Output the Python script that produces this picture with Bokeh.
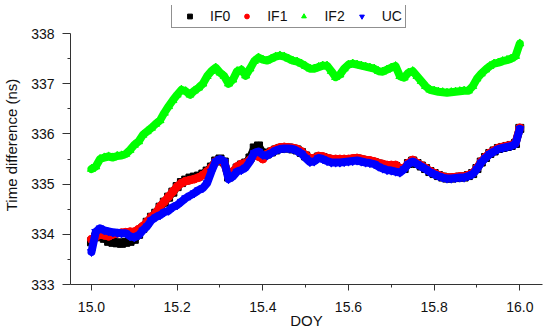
from bokeh.plotting import figure
from bokeh.models import Range1d, FixedTicker, PrintfTickFormatter, Legend, LegendItem, ColumnDataSource
from bokeh.embed import file_html
from bokeh.resources import INLINE

doy = [15.00, 15.01, 15.02, 15.03, 15.04, 15.05, 15.06, 15.07, 15.08, 15.09,
       15.10, 15.11, 15.12, 15.13, 15.14, 15.15, 15.16, 15.17, 15.18, 15.19,
       15.20, 15.21, 15.22, 15.23, 15.24, 15.25, 15.26, 15.27, 15.28, 15.29,
       15.30, 15.31, 15.32, 15.33, 15.34, 15.35, 15.36, 15.37, 15.38, 15.39,
       15.40, 15.41, 15.42, 15.43, 15.44, 15.45, 15.46, 15.47, 15.48, 15.49,
       15.50, 15.51, 15.52, 15.53, 15.54, 15.55, 15.56, 15.57, 15.58, 15.59,
       15.60, 15.61, 15.62, 15.63, 15.64, 15.65, 15.66, 15.67, 15.68, 15.69,
       15.70, 15.71, 15.72, 15.73, 15.74, 15.75, 15.76, 15.77, 15.78, 15.79,
       15.80, 15.81, 15.82, 15.83, 15.84, 15.85, 15.86, 15.87, 15.88, 15.89,
       15.90, 15.91, 15.92, 15.93, 15.94, 15.95, 15.96, 15.97, 15.98, 15.99,
       16.00]

if2 = [335.30, 335.35, 335.50, 335.53, 335.55, 335.53, 335.56, 335.57, 335.60, 335.68,
       335.78, 335.85, 335.98, 336.05, 336.12, 336.20, 336.27, 336.42, 336.55, 336.67,
       336.78, 336.88, 336.85, 336.78, 336.86, 336.92, 337.00, 337.15, 337.25, 337.32,
       337.22, 337.15, 337.00, 337.08, 337.25, 337.28, 337.16, 337.30, 337.45, 337.52,
       337.48, 337.46, 337.50, 337.54, 337.56, 337.54, 337.50, 337.46, 337.44, 337.40,
       337.35, 337.30, 337.30, 337.33, 337.36, 337.36, 337.25, 337.13, 337.18, 337.30,
       337.38, 337.40, 337.38, 337.36, 337.34, 337.32, 337.30, 337.25, 337.24, 337.28,
       337.32, 337.35, 337.15, 337.12, 337.22, 337.25, 337.15, 337.05, 336.95, 336.88,
       336.86, 336.84, 336.83, 336.82, 336.83, 336.84, 336.85, 336.86, 336.86, 336.95,
       337.10, 337.20, 337.28, 337.35, 337.40, 337.42, 337.45, 337.47, 337.50, 337.55,
       337.80]

uc = [333.65, 334.05, 334.12, 334.08, 334.06, 334.04, 334.03, 334.02, 334.02, 333.96,
      333.94, 333.98, 334.08, 334.16, 334.28, 334.34, 334.38, 334.44, 334.47, 334.54,
      334.58, 334.65, 334.72, 334.77, 334.82, 334.88, 334.92, 335.02, 335.25, 335.45,
      335.50, 335.45, 335.10, 335.15, 335.25, 335.28, 335.33, 335.45, 335.62, 335.65,
      335.58, 335.57, 335.62, 335.67, 335.70, 335.71, 335.71, 335.70, 335.66, 335.61,
      335.52, 335.44, 335.45, 335.52, 335.50, 335.46, 335.43, 335.43, 335.43, 335.44,
      335.45, 335.46, 335.47, 335.45, 335.43, 335.42, 335.40, 335.35, 335.31, 335.28,
      335.27, 335.25, 335.23, 335.30, 335.40, 335.45, 335.40, 335.35, 335.30, 335.24,
      335.20, 335.16, 335.13, 335.11, 335.11, 335.12, 335.13, 335.13, 335.16, 335.20,
      335.30, 335.43, 335.52, 335.60, 335.65, 335.70, 335.72, 335.74, 335.76, 335.80,
      336.10]

if1 = [333.90, 333.95, 334.00, 333.98, 333.96, 334.00, 334.02, 334.03, 334.04, 334.05,
       334.05, 334.10, 334.16, 334.25, 334.35, 334.42, 334.55, 334.65, 334.75, 334.85,
       334.95, 335.02, 335.06, 335.08, 335.10, 335.13, 335.18, 335.25, 335.33, 335.45,
       335.48, 335.42, 335.15, 335.25, 335.35, 335.40, 335.42, 335.48, 335.58, 335.55,
       335.50, 335.60, 335.66, 335.70, 335.73, 335.74, 335.73, 335.72, 335.70, 335.65,
       335.58, 335.52, 335.52, 335.56, 335.55, 335.52, 335.50, 335.50, 335.50, 335.50,
       335.50, 335.51, 335.52, 335.50, 335.48, 335.47, 335.45, 335.42, 335.40, 335.38,
       335.38, 335.38, 335.32, 335.32, 335.42, 335.48, 335.42, 335.37, 335.32, 335.26,
       335.22, 335.18, 335.15, 335.13, 335.13, 335.14, 335.15, 335.15, 335.18, 335.22,
       335.32, 335.45, 335.54, 335.62, 335.67, 335.72, 335.74, 335.76, 335.78, 335.82,
       336.12]

if0 = [333.85, 333.95, 333.98, 333.92, 333.86, 333.84, 333.83, 333.82, 333.84, 333.86,
       333.90, 334.00, 334.12, 334.24, 334.34, 334.42, 334.54, 334.64, 334.74, 334.84,
       334.95, 335.03, 335.08, 335.12, 335.14, 335.16, 335.20, 335.26, 335.34, 335.46,
       335.50, 335.44, 335.14, 335.22, 335.32, 335.38, 335.42, 335.52, 335.72, 335.76,
       335.62, 335.60, 335.64, 335.68, 335.71, 335.72, 335.72, 335.70, 335.68, 335.63,
       335.56, 335.50, 335.50, 335.54, 335.53, 335.50, 335.48, 335.48, 335.48, 335.48,
       335.48, 335.49, 335.50, 335.48, 335.46, 335.45, 335.43, 335.40, 335.37, 335.35,
       335.35, 335.35, 335.30, 335.31, 335.41, 335.46, 335.41, 335.36, 335.31, 335.25,
       335.21, 335.17, 335.14, 335.12, 335.12, 335.13, 335.14, 335.14, 335.17, 335.21,
       335.31, 335.44, 335.53, 335.61, 335.66, 335.71, 335.73, 335.75, 335.77, 335.81,
       336.11]

series_names = ["IF0", "IF1", "IF2", "UC"]
series_values = [if0, if1, if2, uc]
series_colors = ["#000000", "#ff0000", "#00ff00", "#0000ff"]
series_markers = ["square", "circle", "triangle", "inverted_triangle"]

x_major = [15.0, 15.2, 15.4, 15.6, 15.8, 16.0]
x_minor = [15.1, 15.3, 15.5, 15.7, 15.9]
y_major = [333, 334, 335, 336, 337, 338]
y_minor = [333.5, 334.5, 335.5, 336.5, 337.5]

FONT = "Liberation Sans"
AX = "#333333"

# frame top extended above 338 to give room for the legend; axis line bounded to 333..338
p = figure(width=550, height=331, output_backend="svg", toolbar_location=None,
           x_range=Range1d(14.951, 16.053), y_range=Range1d(333, 338.558),
           min_border_left=67, min_border_right=8, min_border_top=5, min_border_bottom=47,
           x_axis_label="DOY", y_axis_label="Time difference (ns)")
p.outline_line_color = None
p.xgrid.visible = False
p.ygrid.visible = False
p.background_fill_color = "white"
p.border_fill_color = "white"

p.xaxis.ticker = FixedTicker(ticks=x_major, minor_ticks=x_minor)
p.yaxis.ticker = FixedTicker(ticks=y_major, minor_ticks=y_minor)
p.yaxis.bounds = (333, 338)
p.xaxis.formatter = PrintfTickFormatter(format="%.1f")
p.yaxis.formatter = PrintfTickFormatter(format="%d")

for ax in (p.xaxis[0], p.yaxis[0]):
    ax.axis_line_color = AX
    ax.major_tick_line_color = AX
    ax.minor_tick_line_color = AX
    ax.major_tick_in = 0
    ax.minor_tick_in = 0
    ax.minor_tick_out = 3
    ax.major_label_text_font = FONT
    ax.major_label_text_font_size = "14px"
    ax.major_label_text_color = "#111111"
    ax.axis_label_text_font = FONT
    ax.axis_label_text_font_size = "15px"
    ax.axis_label_text_font_style = "normal"
    ax.axis_label_text_color = "#111111"
p.xaxis.major_tick_out = 6
p.yaxis.major_tick_out = 8
p.xaxis.major_label_standoff = 11
p.yaxis.major_label_standoff = 8
p.xaxis.axis_label_standoff = -3
p.yaxis.axis_label_standoff = 8

items = []
for name, vals, col, mk in zip(series_names, series_values, series_colors, series_markers):
    src = ColumnDataSource(dict(x=doy, y=vals))
    p.line("x", "y", source=src, line_color=col, line_width=8, line_join="round", line_cap="round")
    r = p.scatter("x", "y", source=src, marker=mk, size=8, fill_color=col, line_color=col)
    items.append(LegendItem(label=name, renderers=[r]))

legend = Legend(items=items, orientation="horizontal", location=(101, 256))
legend.border_line_color = "#222222"
legend.border_line_width = 1
legend.padding = 3
legend.spacing = 2
legend.margin = 0
legend.glyph_width = 29
legend.glyph_height = 12
legend.label_height = 16
legend.label_standoff = 6
legend.label_text_font = FONT
legend.label_text_font_size = "14px"
legend.label_text_color = "#111111"
legend.background_fill_alpha = 1.0
p.add_layout(legend, "center")

open("out.html", "w").write(file_html(p, INLINE))
